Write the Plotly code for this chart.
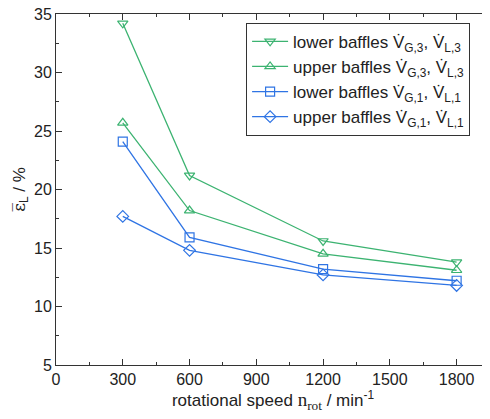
import plotly.graph_objects as go

# rotational speed in 1/min
n_rot = [300, 600, 1200, 1800]

# mean liquid holdup in %
lower_g3 = [34.2, 21.2, 15.6, 13.8]
upper_g3 = [25.7, 18.2, 14.5, 13.1]
lower_g1 = [24.1, 15.9, 13.2, 12.2]
upper_g1 = [17.7, 14.8, 12.7, 11.8]

x_ticks = [0, 300, 600, 900, 1200, 1500, 1800]
y_ticks = [5, 10, 15, 20, 25, 30, 35]

green = "#3cb371"
blue = "#2f74e4"
VD = "V\u0307"

series = [
    (f"lower baffles {VD}<sub>G,3</sub>, {VD}<sub>L,3</sub>", lower_g3, green, "triangle-down-open"),
    (f"upper baffles {VD}<sub>G,3</sub>, {VD}<sub>L,3</sub>", upper_g3, green, "triangle-up-open"),
    (f"lower baffles {VD}<sub>G,1</sub>, {VD}<sub>L,1</sub>", lower_g1, blue, "square-open"),
    (f"upper baffles {VD}<sub>G,1</sub>, {VD}<sub>L,1</sub>", upper_g1, blue, "diamond-open"),
]

fig = go.Figure()
for name, vals, col, sym in series:
    fig.add_trace(go.Scatter(
        x=n_rot, y=vals, name=name, mode="lines+markers",
        line=dict(color=col, width=1.3),
        marker=dict(symbol=sym, size=9, color=col, line=dict(width=1.2, color=col)),
    ))

axis_font = dict(family="Arial", size=16, color="#222")

# page body has an 8px margin, so the figure is sized to fill the rest;
# the mirrored right axis line falls just outside the window like in the original
fig.update_layout(
    width=482, height=411,
    margin=dict(l=48, r=0, t=6, b=54),
    plot_bgcolor="white", paper_bgcolor="white",
    font=dict(family="Arial", size=16, color="#222"),
    showlegend=True,
    legend=dict(
        x=0.438, y=0.975, xanchor="left", yanchor="top",
        bgcolor="white", bordercolor="#333", borderwidth=1,
        font=dict(family="Arial", size=17, color="#222"),
        tracegroupgap=0, itemwidth=36,
    ),
    xaxis=dict(
        range=[0, 1950], tickvals=x_ticks, ticktext=[str(v) for v in x_ticks],
        ticks="inside", ticklen=6, tickcolor="#333", showline=True, linecolor="#333",
        linewidth=1, mirror="ticks", showgrid=False, zeroline=False, automargin=False,
        tickfont=axis_font, ticklabeloverflow="allow",
        minor=dict(dtick=150, tick0=0, ticks="inside", ticklen=3, tickcolor="#333", showgrid=False),
        title=dict(text="rotational speed <span style='font-family:Times New Roman;font-size:19px'>n<sub>rot</sub></span> / min<sup>-1</sup>",
                   font=dict(family="Arial", size=17, color="#222"), standoff=6),
    ),
    yaxis=dict(
        range=[5, 35], tickvals=y_ticks, ticktext=[str(v) for v in y_ticks],
        ticks="inside", ticklen=6, tickcolor="#333", showline=True, linecolor="#333",
        linewidth=1, mirror="ticks", showgrid=False, zeroline=False, automargin=False,
        tickfont=axis_font, ticklabeloverflow="allow",
        minor=dict(dtick=2.5, tick0=5, ticks="inside", ticklen=3, tickcolor="#333", showgrid=False),
        title=dict(text="<span style='font-family:DejaVu Serif'>\u03b5\u0305</span><sub>L</sub> / %",
                   font=dict(family="Arial", size=17, color="#222"), standoff=4),
    ),
)

fig.write_html("out.html")
